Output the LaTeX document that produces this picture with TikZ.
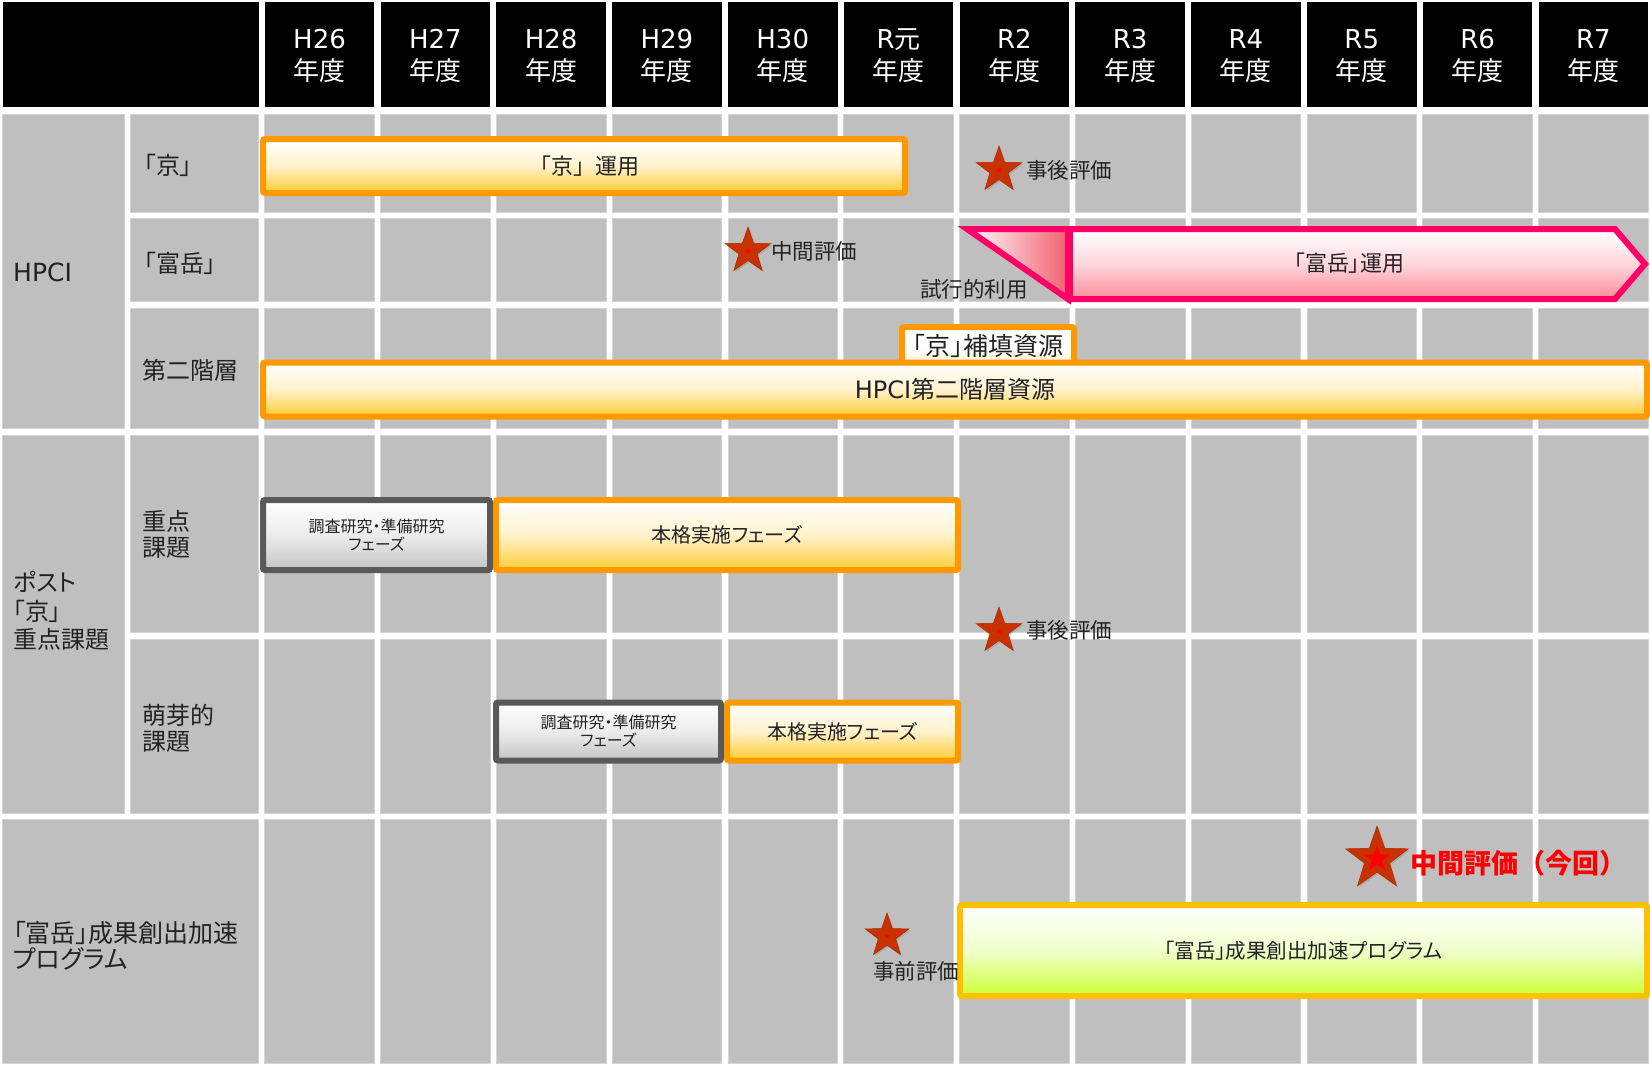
\documentclass[tikz,border=0pt]{standalone}
\usepackage{fontspec}
\setmainfont{Noto Sans CJK JP}[RawFeature=+palt]
\newfontfamily\latf{DejaVu Sans}
\newfontfamily\cjkfull{Noto Sans CJK JP}
\usetikzlibrary{shapes.geometric,shadows}
\definecolor{cellgray}{HTML}{BFBFBF}
\definecolor{celledge}{HTML}{D4D4D4}
\definecolor{txt}{HTML}{222222}
\definecolor{barorange}{HTML}{FF9900}
\definecolor{baryellow}{HTML}{FFCC33}
\definecolor{barmid}{HTML}{FFF2CC}
\definecolor{boxgray}{HTML}{595959}
\definecolor{boxgraybot}{HTML}{C4C4C4}
\definecolor{boxgraymid}{HTML}{ECECEC}
\definecolor{pinkline}{HTML}{FF0066}
\definecolor{pinkbot}{HTML}{FF8C9A}
\definecolor{pinkmid}{HTML}{FFD6DC}
\definecolor{trired}{HTML}{F06070}
\definecolor{greenline}{HTML}{FFC000}
\definecolor{greenbot}{HTML}{CCFF33}
\definecolor{greenmid}{HTML}{F0FFCC}
\definecolor{starred}{HTML}{C83200}
\definecolor{staredge}{HTML}{B02800}
\tikzset{
  cell/.style={fill=cellgray, draw=celledge, line width=0.8pt},
  hd/.style={text=white, align=center, inner sep=0pt, font=\fontsize{26}{32}\selectfont},
  lbl/.style={text=txt, align=left, anchor=west, inner sep=0pt, font=\fontsize{24}{26}\selectfont},
  ybar/.style={draw=barorange, line width=6pt, rounded corners=2pt, top color=white, bottom color=baryellow, middle color=barmid, inner sep=0pt, text=txt},
  gbox/.style={draw=boxgray, line width=6pt, rounded corners=2pt, top color=white, bottom color=boxgraybot, middle color=boxgraymid, inner sep=0pt, text=txt, align=center, font=\fontsize{16}{18}\selectfont},
  gnbar/.style={draw=greenline, line width=6pt, rounded corners=2pt, top color=white, bottom color=greenbot, middle color=greenmid, inner sep=0pt, text=txt},
  pinkshape/.style={draw=pinkline, line width=6pt},
  evstar/.style={star, star points=5, star point ratio=2.5, inner sep=0pt, fill=starred, draw=staredge, line width=0.5pt, drop shadow={shadow xshift=1.5pt, shadow yshift=-1.5pt, opacity=0.35}},
  redstar/.style={star, star points=5, star point ratio=2.5, inner sep=0pt, fill=red},
  evtext/.style={text=txt, inner sep=0pt, font=\fontsize{21.5}{24}\selectfont},
}
\begin{document}
\begin{tikzpicture}[x=1pt, y=-1pt]
\useasboundingbox (0,0) rectangle (1650,1065);
\fill[white] (0,0) rectangle (1650,1065);
% header
\fill[black] (2.5,2) rectangle (258.5,107);
\foreach \i in {0,...,11} \fill[black] ({264.8+115.8*\i},2) rectangle ({264.8+115.8*\i+109.5},107);
% label cells
\fill[cell] (2.5,114) rectangle (124,428);
\fill[cell] (130,114) rectangle (258.5,212);
\fill[cell] (130,218) rectangle (258.5,301);
\fill[cell] (130,308) rectangle (258.5,428);
\fill[cell] (2.5,435) rectangle (124,813);
\fill[cell] (130,435) rectangle (258.5,632);
\fill[cell] (130,639) rectangle (258.5,813);
\fill[cell] (2.5,819) rectangle (258.5,1063);
\foreach \ya/\yb in {114/212,218/301,308/428,435/632,639/813,819/1063}
  \foreach \i in {0,...,11}
    \fill[cell] ({264.8+115.8*\i},\ya) rectangle ({264.8+115.8*\i+109.5},\yb);
% header labels
\node[hd] (h26) at (319.55,56) {{\latf H26}\\年度};
\node[hd] (h27) at (435.35,56) {{\latf H27}\\年度};
\node[hd] (h28) at (551.15,56) {{\latf H28}\\年度};
\node[hd] (h29) at (666.95,56) {{\latf H29}\\年度};
\node[hd] (h30) at (782.75,56) {{\latf H30}\\年度};
\node[hd] (r1) at (898.55,56) {{\latf R}元\\年度};
\node[hd] (r2) at (1014.35,56) {{\latf R2}\\年度};
\node[hd] (r3) at (1130.15,56) {{\latf R3}\\年度};
\node[hd] (r4) at (1245.95,56) {{\latf R4}\\年度};
\node[hd] (r5) at (1361.75,56) {{\latf R5}\\年度};
\node[hd] (r6) at (1477.55,56) {{\latf R6}\\年度};
\node[hd] (r7) at (1593.35,56) {{\latf R7}\\年度};
% row labels
\node[lbl, font=\latf\fontsize{25}{26}\selectfont] (lhpci) at (13,272) {HPCI};
\node[lbl] (lkyo) at (144,165) {「京」};
\node[lbl] (lfug) at (144,263) {「富岳」};
\node[lbl] (l2nd) at (142,370) {第二階層};
\node[lbl] (ljut) at (142,534) {重点\\課題};
\node[lbl, font=\fontsize{24}{28.5}\selectfont] (lpost) at (13,611) {ポスト\\「京」\\重点課題};
\node[lbl] (lhoga) at (142,728) {萌芽的\\課題};
\node[lbl, font=\fontsize{25}{26}\selectfont] (lprog) at (13,946) {「富岳」成果創出加速\\プログラム};
% bars
\node[ybar, minimum width=642pt, minimum height=54pt, font=\cjkfull\fontsize{22}{26}\selectfont] (kyoop) at (584,166) {「京」運用};
\node[ybar, minimum width=172pt, minimum height=40pt, bottom color=barmid, middle color=white, font=\fontsize{25}{26}\selectfont, text depth=4pt] (hoten) at (988,347) {「京」補填資源};
\node[ybar, minimum width=1384pt, minimum height=54pt, font=\fontsize{24}{26}\selectfont] (hpci2) at (955,389.5) {{\latf HPCI}第二階層資源};
\node[gbox, minimum width=227pt, minimum height=70pt] (jgray) at (376.5,535) {調査研究・準備研究\\フェーズ};
\node[ybar, minimum width=462pt, minimum height=70pt, font=\fontsize{20}{24}\selectfont] (jorg) at (727,535) {本格実施フェーズ};
\node[gbox, minimum width=225pt, minimum height=58pt] (hgray) at (608.5,731.5) {調査研究・準備研究\\フェーズ};
\node[ybar, minimum width=231pt, minimum height=58pt, font=\fontsize{20}{24}\selectfont] (horg) at (842.5,731.5) {本格実施フェーズ};
\node[gnbar, minimum width=687pt, minimum height=91pt, font=\fontsize{20.5}{24}\selectfont] (prog) at (1303.5,950.5) {「富岳」成果創出加速プログラム};
% Fugaku trial triangle and operation arrow
\draw[pinkshape, left color=white, right color=trired] (967,229) -- (1068,229) -- (1068,299) -- cycle;
\draw[pinkshape, top color=white, bottom color=pinkbot, middle color=pinkmid] (1070,229) -- (1615,229) -- (1645,264) -- (1615,299) -- (1070,299) -- cycle;
\node[text=txt, inner sep=0pt, font=\fontsize{22}{24}\selectfont] (fugop) at (1349,263) {「富岳」運用};
\node[evtext] (trial) at (974,289) {試行的利用};
% evaluation stars
\node[evstar, minimum size=48pt] (s1) at (999,170) {};
\node[redstar, minimum size=7pt] (s1c) at (s1.center) {};
\node[evtext, anchor=west] (e1) at (1026,170) {事後評価};
\node[evstar, minimum size=48pt] (s2) at (748,251) {};
\node[redstar, minimum size=7pt] (s2c) at (s2.center) {};
\node[evtext, anchor=west] (e2) at (771,251) {中間評価};
\node[evstar, minimum size=48pt] (s3) at (999,631) {};
\node[redstar, minimum size=7pt] (s3c) at (s3.center) {};
\node[evtext, anchor=west] (e3) at (1026,630) {事後評価};
\node[evstar, minimum size=46pt] (s4) at (887,936) {};
\node[redstar, minimum size=6pt] (s4c) at (s4.center) {};
\node[evtext] (e4) at (916,971) {事前評価};
\node[evstar, minimum size=66pt] (s5) at (1377,859) {};
\node[redstar, minimum size=28pt] (s5c) at (s5.center) {};
\node[anchor=west, inner sep=0pt, text=red, font=\cjkfull\bfseries\fontsize{27}{28}\selectfont] (e5) at (1410,863) {中間評価（今回）};
\end{tikzpicture}
\end{document}
